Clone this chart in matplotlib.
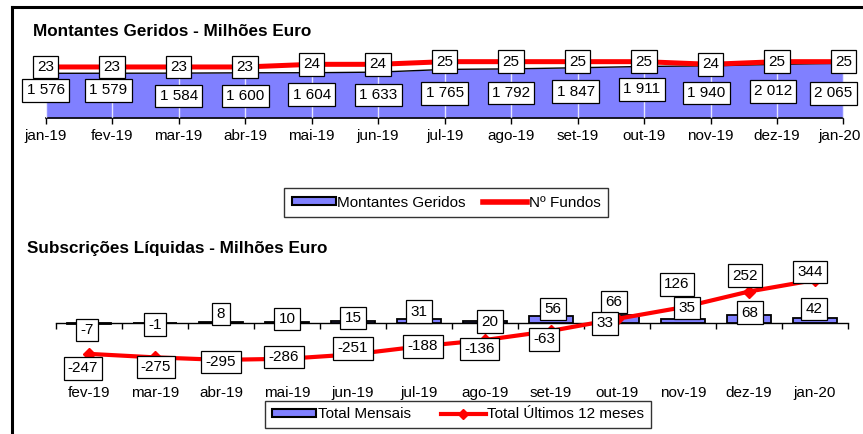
import matplotlib
matplotlib.use('Agg')
import matplotlib.pyplot as plt
from matplotlib.lines import Line2D
from matplotlib.patches import Patch
from matplotlib.transforms import ScaledTranslation
import numpy as np

plt.rcParams['font.family'] = ['Liberation Sans', 'DejaVu Sans']

# ---------------- data ----------------
months_top = ['jan-19', 'fev-19', 'mar-19', 'abr-19', 'mai-19', 'jun-19', 'jul-19',
              'ago-19', 'set-19', 'out-19', 'nov-19', 'dez-19', 'jan-20']
montantes = [1576, 1579, 1584, 1600, 1604, 1633, 1765, 1792, 1847, 1911, 1940, 2012, 2065]
fundos = [23, 23, 23, 23, 24, 24, 25, 25, 25, 25, 24, 25, 25]

months_bot = ['fev-19', 'mar-19', 'abr-19', 'mai-19', 'jun-19', 'jul-19',
              'ago-19', 'set-19', 'out-19', 'nov-19', 'dez-19', 'jan-20']
mensais = [-7, -1, 8, 10, 15, 31, 20, 56, 66, 35, 68, 42]
ultimos12 = [-247, -275, -295, -286, -251, -188, -136, -63, 33, 126, 252, 344]

# ---------------- label layout (pixel offsets) ----------------
mont_dx = [0, -4, 0, 0, 0, 0, 0, 0, -2, -2, -4, -4, -10]
mont_dy = [17, 17, 23, 23, 22, 23, 24, 24, 24, 23, 27, 27, 30]
bar_dx = [-2, 0, 0, 0, 0, 0, 5, 2, -3, 4, 1, -1]
bar_dy = [6, 1.6, -8, -2.75, -3, -7.4, 1.2, -7, -12.75, -10.6, -1.8, -8.75]
line_dx = [-6, 1, 0, -3, 0, 4, -5.5, -7, -12, -6, -4, -5]
line_dy = [14.6, 9.6, 2, -1.75, -6, 0, 9, 8.6, 4.6, -22.75, -16, -8]

BLUE = '#8080FF'
FS = 11
TFS = 12.3
W, H = 863, 434


def rect(x0, y0, x1, y1):
    return [x0 / W, 1 - y1 / H, (x1 - x0) / W, (y1 - y0) / H]


def fmt(v):
    return f"{v:,}".replace(',', ' ')


box = dict(boxstyle='square,pad=0.28', facecolor='white', edgecolor='black', linewidth=0.9)

fig = plt.figure(figsize=(W / 100, H / 100), dpi=100)

# ---------------- top chart ----------------
ax1 = fig.add_axes(rect(45.7, 50, 843.5, 118))
x = np.arange(len(months_top))
ax1.set_xlim(0, len(months_top) - 1)
ax1.set_ylim(-610, 2715)
ymin = ax1.get_ylim()[0]
ax1.fill_between(x, montantes, ymin, color=BLUE, lw=0, zorder=1)
ax1.plot(x, montantes, color='black', lw=1, zorder=3)
ax1.set_xticks(x, months_top)
ax1.tick_params(axis='x', length=4, direction='out', pad=4, labelsize=FS, width=1)
last = ax1.get_xticklabels()[-1]
last.set_transform(last.get_transform() + ScaledTranslation(-4 / 100, 0, fig.dpi_scale_trans))
ax1.set_yticks([])
for s in ['left', 'right', 'top']:
    ax1.spines[s].set_visible(False)
ax1.spines['bottom'].set_linewidth(1.2)
ax1.set_axisbelow(False)
ax1.grid(axis='x', color='white', lw=1, alpha=0.8)
for i, v in enumerate(montantes):
    ax1.annotate(fmt(v), (x[i], v), xytext=(mont_dx[i], -mont_dy[i]),
                 textcoords='offset pixels', ha='center', va='center',
                 fontsize=FS, bbox=box, zorder=5, annotation_clip=False)

ax2 = ax1.twinx()
ax2.set_ylim(3.75, 29.4)
ax2.plot(x, fundos, color='red', lw=3.6, solid_capstyle='butt', zorder=2)
ax2.set_yticks([])
for s in ax2.spines.values():
    s.set_visible(False)
for i, v in enumerate(fundos):
    ax2.annotate(str(v), (x[i], v), ha='center', va='center', fontsize=FS,
                 bbox=box, zorder=5, annotation_clip=False)

# ---------------- bottom chart ----------------
ax3 = fig.add_axes(rect(56, 262, 848, 382))
xb = np.arange(len(months_bot))
ax3.set_xlim(-0.5, len(months_bot) - 0.5)
ax3.set_ylim(-472, 488)
ax3.bar(xb, mensais, width=0.67, color=BLUE, edgecolor='black', lw=1.3, zorder=2)
ax3.plot(xb, ultimos12, color='red', lw=3, marker='D', ms=6, zorder=4)
ax3.set_xticks(xb, months_bot)
ax3.tick_params(axis='x', length=0, pad=3, labelsize=FS)
ax3.set_yticks([])
for s in ax3.spines.values():
    s.set_visible(False)
y0, y1 = ax3.get_ylim()
sec = ax3.secondary_xaxis((0 - y0) / (y1 - y0))
sec.set_xticks(np.arange(len(months_bot) + 1) - 0.5)
sec.set_xticklabels([])
sec.tick_params(axis='x', length=4, direction='out', width=1)
for s in sec.spines.values():
    s.set_linewidth(1)

for i, v in enumerate(mensais):
    ax3.annotate(str(v), (xb[i], v), xytext=(bar_dx[i], -bar_dy[i]),
                 textcoords='offset pixels', ha='center', va='center',
                 fontsize=FS, bbox=box, zorder=6, annotation_clip=False)
for i, v in enumerate(ultimos12):
    ax3.annotate(str(v), (xb[i], v), xytext=(line_dx[i], -line_dy[i]),
                 textcoords='offset pixels', ha='center', va='center',
                 fontsize=FS, bbox=box, zorder=6, annotation_clip=False)

# ---------------- titles ----------------
fig.text(33 / W, 1 - 36 / H, 'Montantes Geridos - Milhões Euro', fontweight='bold',
         fontsize=TFS, va='baseline', ha='left')
fig.text(27 / W, 1 - 253 / H, 'Subscrições Líquidas - Milhões Euro', fontweight='bold',
         fontsize=TFS, va='baseline', ha='left')

# ---------------- legends ----------------
h1 = [Patch(facecolor=BLUE, edgecolor='black', lw=1.5),
      Line2D([], [], color='red', lw=4)]
leg1 = fig.legend(h1, ['Montantes Geridos', 'Nº Fundos'], loc='center',
                  bbox_to_anchor=(446 / W, 1 - 202.5 / H), ncol=2, frameon=True,
                  fancybox=False, edgecolor='black', handlelength=2.9, handleheight=0.4,
                  handletextpad=0.1, columnspacing=1.1, fontsize=FS, borderpad=0.5)
leg1.get_frame().set_linewidth(1)

h2 = [Patch(facecolor=BLUE, edgecolor='black', lw=1.5),
      Line2D([], [], color='red', lw=3, marker='D', ms=5)]
leg2 = fig.legend(h2, ['Total Mensais', 'Total Últimos 12 meses'], loc='center',
                  bbox_to_anchor=(458 / W, 1 - 414.5 / H), ncol=2, frameon=True,
                  fancybox=False, edgecolor='black', handlelength=2.9, handleheight=0.4,
                  handletextpad=0.1, columnspacing=2.0, fontsize=FS, borderpad=0.45)
leg2.get_frame().set_linewidth(1)

# ---------------- outer frame ----------------
fig.add_artist(Line2D([12 / W, 12 / W], [0, 1 - 7 / H], color='black', lw=2.2,
                      transform=fig.transFigure))
fig.add_artist(Line2D([12 / W, 1], [1 - 7 / H, 1 - 7 / H], color='black', lw=2.2,
                      transform=fig.transFigure))

fig.savefig('out.png', dpi=100)
